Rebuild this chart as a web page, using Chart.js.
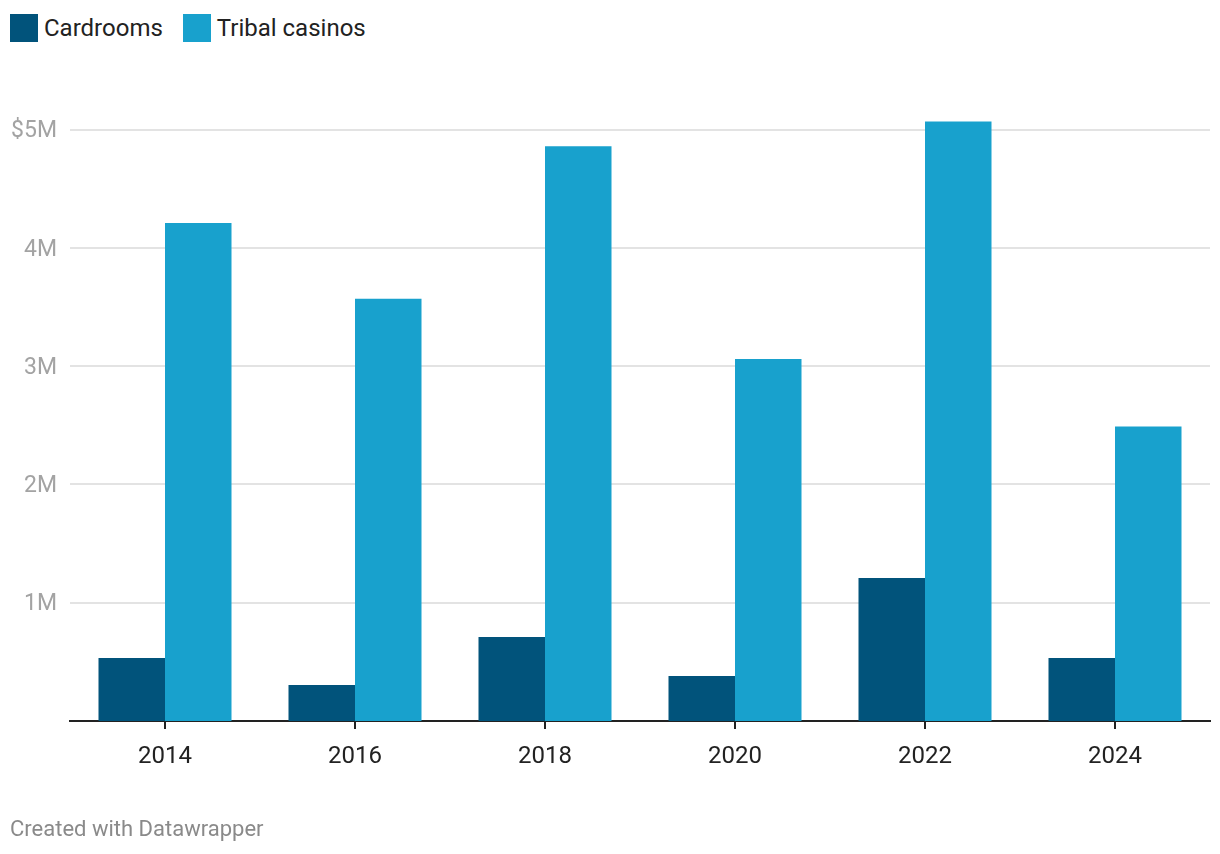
<!DOCTYPE html>
<html>
<head>
<meta charset="utf-8">
<script src="https://cdn.jsdelivr.net/npm/chart.js@4"></script>
<style>
  html, body { margin: 0; padding: 0; background: #fff; }
  body { width: 1220px; height: 854px; position: relative; overflow: hidden; font-family: Roboto, sans-serif; }
  #legend { position: absolute; left: 10px; top: 14px; display: flex; align-items: center; font-size: 24px; color: #222; line-height: 28px; }
  .item { display: flex; align-items: center; margin-right: 20px; }
  .swatch { width: 28px; height: 28px; margin-right: 6px; }
  #chartBox { position: absolute; left: 0; top: 0; width: 1220px; height: 854px; }
  #footer { position: absolute; left: 10px; top: 815px; font-size: 22px; color: #8a8a8a; line-height: 28px; }
</style>
</head>
<body>
<div id="legend"></div>
<div id="chartBox"><canvas id="chart"></canvas></div>
<div id="footer">Created with Datawrapper</div>
<script>
// values (dollars)
const years = ["2014", "2016", "2018", "2020", "2022", "2024"];
const cardrooms = [533000, 305000, 710000, 380000, 1210000, 533000];
const tribalCasinos = [4210000, 3570000, 4860000, 3060000, 5070000, 2490000];
const yTickValues = [1000000, 2000000, 3000000, 4000000, 5000000];
const yTickLabels = ["1M", "2M", "3M", "4M", "$5M"];

const seriesNames = ["Cardrooms", "Tribal casinos"];
const seriesColors = ["#01537b", "#18a1cd"];

function buildLegend() {
  const box = document.getElementById("legend");
  seriesNames.forEach((name, i) => {
    const item = document.createElement("div");
    item.className = "item";
    const sw = document.createElement("div");
    sw.className = "swatch";
    sw.style.background = seriesColors[i];
    const label = document.createElement("span");
    label.textContent = name;
    item.appendChild(sw);
    item.appendChild(label);
    box.appendChild(item);
  });
}

function createChart(ctx) {
  return new Chart(ctx, {
    type: "bar",
    data: {
      labels: years,
      datasets: [
        { label: seriesNames[0], data: cardrooms, backgroundColor: seriesColors[0] },
        { label: seriesNames[1], data: tribalCasinos, backgroundColor: seriesColors[1] },
      ],
    },
    options: {
      responsive: true,
      maintainAspectRatio: false,
      animation: false,
      devicePixelRatio: 1,
      categoryPercentage: 0.7,
      barPercentage: 1.0,
      layout: { padding: { left: 0, right: 10, top: 106, bottom: 73 } },
      plugins: { legend: { display: false }, tooltip: { enabled: false } },
      scales: {
        x: {
          grid: {
            display: true,
            drawOnChartArea: false,
            drawTicks: true,
            tickLength: 8,
            offset: false,
            color: "#222",
            lineWidth: 2,
          },
          border: { display: true, color: "#222", width: 2 },
          ticks: { color: "#222", font: { family: "Roboto", size: 24 }, padding: 14 },
          afterFit: (scale) => { scale.height = 60; },
        },
        y: {
          min: 0,
          max: 5200000,
          afterBuildTicks: (axis) => { axis.ticks = yTickValues.map((v) => ({ value: v })); },
          afterFit: (scale) => { scale.width = 70; },
          grid: { color: "#e3e3e3", lineWidth: 2, drawTicks: false },
          border: { display: false },
          ticks: {
            color: "#a3a3a3",
            font: { family: "Roboto", size: 23 },
            padding: 13,
            labelOffset: 2,
            callback: (value) => {
              const i = yTickValues.indexOf(value);
              return i >= 0 ? yTickLabels[i] : "";
            },
          },
        },
      },
    },
  });
}

buildLegend();
createChart(document.getElementById("chart"));
</script>
</body>
</html>
